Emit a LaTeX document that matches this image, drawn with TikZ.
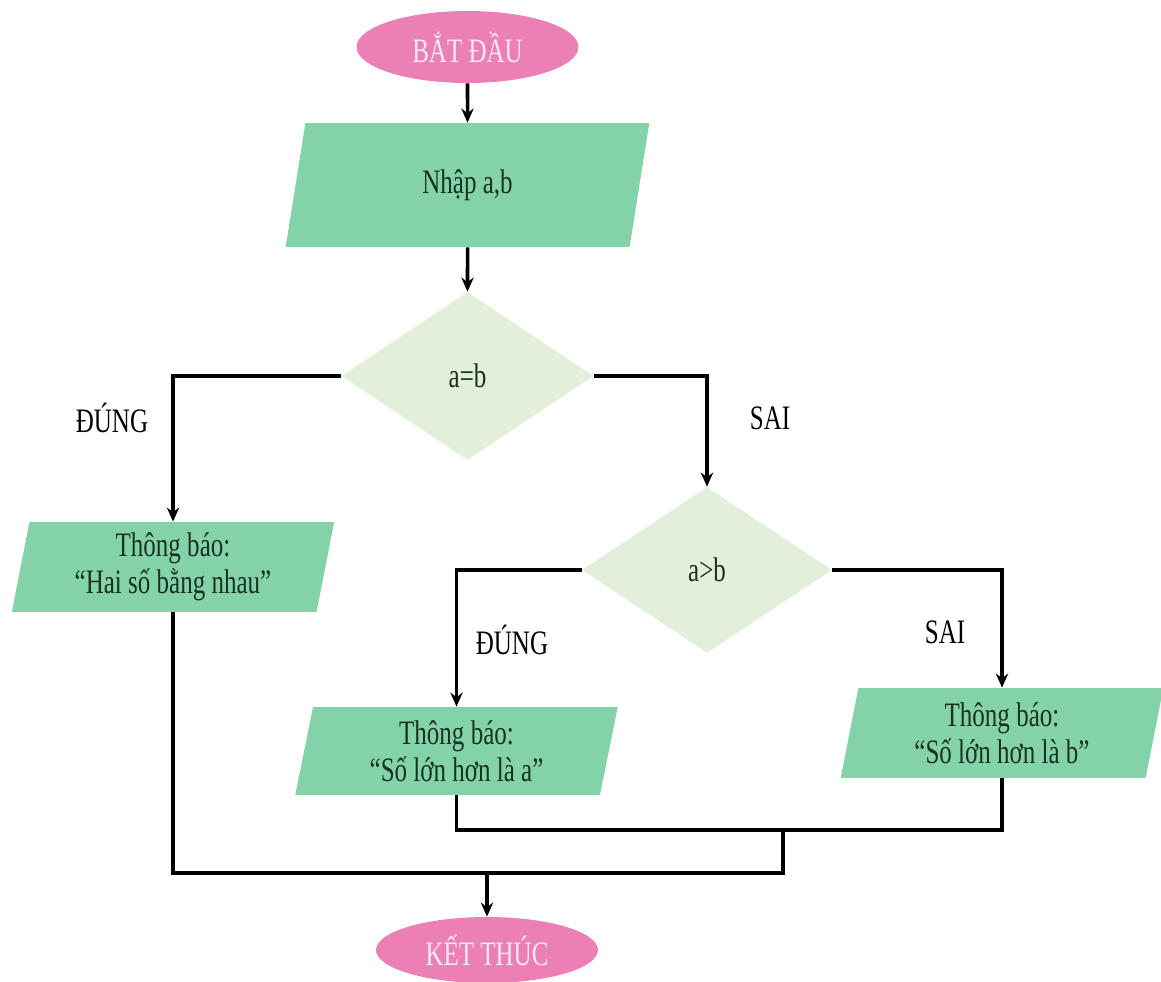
\documentclass[tikz,border=0pt]{standalone}
\usepackage{fontspec}
\setmainfont{Liberation Serif}[FakeStretch=0.73]
\usetikzlibrary{shapes.geometric,arrows.meta}
\definecolor{pinkfill}{RGB}{234,128,182}
\definecolor{greenfill}{RGB}{132,211,168}
\definecolor{diafill}{RGB}{226,239,218}
\definecolor{darktext}{RGB}{24,50,35}
\definecolor{pinktext}{RGB}{252,232,243}
\begin{document}
\begin{tikzpicture}[x=0.02cm,y=-0.02cm,
  txtfont/.style={font=\fontsize{19.5}{21}\selectfont},
  term/.style={ellipse, fill=pinkfill, text=pinktext, inner sep=0pt,
    minimum width=4.44cm, minimum height=1.44cm, txtfont},
  io/.style={trapezium, trapezium left angle=80, trapezium right angle=100,
    trapezium stretches=true, fill=greenfill, text=darktext, inner sep=0pt,
    minimum width=6.46cm, minimum height=1.8cm, align=center, txtfont},
  decision/.style={diamond, fill=diafill, text=darktext, inner sep=0pt,
    minimum width=5.04cm, minimum height=3.36cm, txtfont},
  lbl/.style={text=black, txtfont},
  line/.style={draw=black, line width=2pt},
  arr/.style={line, -{Stealth[length=8pt,width=7pt]}}]
\useasboundingbox (0,0) rectangle (1161,982);

\node[term] (start) at (467.5,47) {BẮT ĐẦU};
\node[io, minimum width=7.3cm, minimum height=2.48cm] (in) at (467.5,185) {Nhập a,b};
\node[decision] (d1) at (467.5,376) {a=b};
\node[io] (hai) at (173,567) {Thông báo:\\ “Hai số bằng nhau”};
\node[decision, minimum width=5cm, minimum height=3.32cm] (d2) at (707,570) {a>b};
\node[io, minimum height=1.76cm] (sa) at (456.5,751) {Thông báo:\\ “Số lớn hơn là a”};
\node[io] (sb) at (1002,733) {Thông báo:\\ “Số lớn hơn là b”};
\node[term, minimum height=1.32cm] (end) at (487,950) {KẾT THÚC};

\node[lbl] (l1) at (112,418) {ĐÚNG};
\node[lbl] (l2) at (770,418) {SAI};
\node[lbl] (l3) at (512,640) {ĐÚNG};
\node[lbl] (l4) at (945,632) {SAI};

\coordinate (j1) at (783,830);
\coordinate (j2) at (487,873);

\draw[arr] (start) -- (in);
\draw[arr] (in) -- (d1);
\draw[arr] (d1.west) -| (hai.north);
\draw[arr] (d1.east) -| (d2.north);
\draw[arr] (d2.west) -| (sa.north);
\draw[arr] (d2.east) -| (sb.north);
\draw[line] (sa.south) |- (j1);
\draw[line] (sb.south) |- (j1);
\draw[line] (j1) |- (j2);
\draw[line] (hai.south) |- (j2);
\draw[arr] (j2) -- (end);
\end{tikzpicture}
\end{document}
